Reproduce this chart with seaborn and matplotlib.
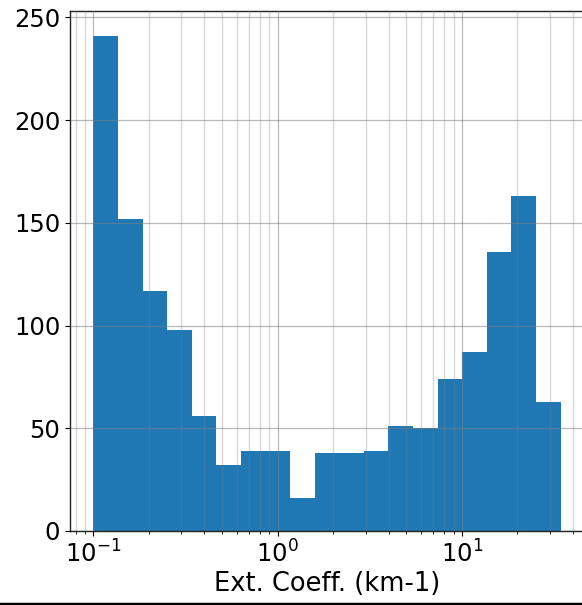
import numpy as np
import pandas as pd
import matplotlib
matplotlib.use("Agg")
import matplotlib.pyplot as plt
import seaborn as sns
from matplotlib.lines import Line2D

# Data: histogram counts over log-spaced bins of extinction coefficient
x_min = 0.1
x_max = 34.3
counts = [241, 152, 117, 98, 56, 32, 39, 39, 16, 38, 38, 39, 51, 50, 74, 87, 136, 163, 63]
x_label = "Ext. Coeff. (km-1)"
y_ticks = [0, 50, 100, 150, 200, 250]

n_bins = len(counts)
edges = np.logspace(np.log10(x_min), np.log10(x_max), n_bins + 1)
centers = np.sqrt(edges[:-1] * edges[1:])
df = pd.DataFrame({"ext": centers, "n": counts})

plt.rcParams['font.family'] = ['DejaVu Sans']
fig = plt.figure(figsize=(5.82, 6.05), dpi=100)
ax = fig.add_axes([70 / 582, 74 / 605, 514 / 582, 520 / 605])

sns.histplot(data=df, x="ext", weights="n", bins=list(edges), ax=ax,
             color="#1f77b4", alpha=1, linewidth=0, edgecolor="#1f77b4")
ax.set_xscale("log")
ax.margins(x=0.05, y=0.05)
ax.set_ylim(0, max(counts) * 1.05)
ax.set_yticks(y_ticks)

ax.set_axisbelow(False)
ax.grid(which="major", color="#808080", alpha=0.55, linewidth=0.9)
ax.grid(which="minor", axis="x", color="#808080", alpha=0.3, linewidth=1.0)
ax.set_xlabel(x_label, fontsize=18.5, labelpad=2)
ax.set_ylabel("")
ax.tick_params(labelsize=17.5)
for s in ax.spines.values():
    s.set_color("#222222")
    s.set_linewidth(1.0)

fig.add_artist(Line2D([0, 1], [1.5 / 605, 1.5 / 605], transform=fig.transFigure,
                      color="black", linewidth=2.5))

fig.savefig("out.png", dpi=100)
